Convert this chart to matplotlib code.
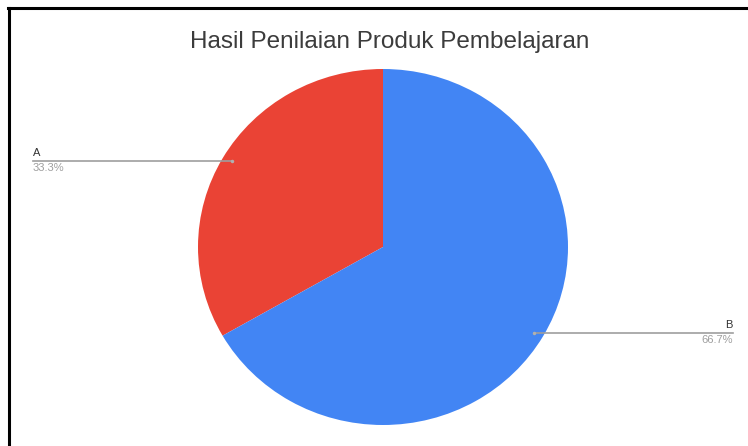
import numpy as np
import matplotlib.pyplot as plt
from matplotlib.lines import Line2D

plt.rcParams["font.family"] = ["Liberation Sans", "DejaVu Sans"]

labels = ["A", "B"]
values = [33.3, 66.7]
colors = ["#EA4335", "#4285F4"]
title = "Hasil Penilaian Produk Pembelajaran"

W, H = 748, 446
k = 185 / 178  # pie is slightly wider than tall in the reference


def y(py):
    # pixel row (from top) -> data y
    return (H - py) * k


fig = plt.figure(figsize=(W / 100, H / 100), dpi=100)
ax = fig.add_axes([0, 0, 1, 1])

cx, cy, r = 383, y(247), 185
wedges, _ = ax.pie(values, colors=colors, startangle=90, center=(cx, cy),
                   radius=r, frame=True, wedgeprops={"linewidth": 0})
ax.set_aspect("auto")
ax.set_xlim(0, W)
ax.set_ylim(0, H * k)
ax.axis("off")

# leader lines + labels
edge_x = {"left": 33, "right": 733}
for w, lab, v in zip(wedges, labels, values):
    mid = np.deg2rad((w.theta1 + w.theta2) / 2)
    px = cx + 0.94 * r * np.cos(mid)
    py = cy + 0.96 * r * np.sin(mid)
    side = "left" if np.cos(mid) < 0 else "right"
    ex = edge_x[side]
    ax.plot([px, ex], [py, py], color="#9e9e9e", lw=1.2, zorder=3)
    ax.plot(px, py, "o", ms=2.5, color="#b0b0b0", mec="none", zorder=4)
    ha = "left" if side == "left" else "right"
    ax.text(ex, py + 3 * k, lab, ha=ha, va="bottom", fontsize=8, color="#333333")
    ax.text(ex, py - 2 * k, f"{v:.1f}%", ha=ha, va="top", fontsize=8, color="#9e9e9e")

fig.text(390 / W, 1 - 42 / H, title, ha="center", va="center",
         fontsize=17.5, color="#3c3c3c")

# black frame (left and top)
fig.add_artist(Line2D([9 / W, 9 / W], [0, 1 - 8 / H], color="black", lw=2.2,
                      transform=fig.transFigure))
fig.add_artist(Line2D([8 / W, 1], [1 - 8 / H, 1 - 8 / H], color="black", lw=2.2,
                      transform=fig.transFigure))

fig.savefig("out.png", dpi=100)
